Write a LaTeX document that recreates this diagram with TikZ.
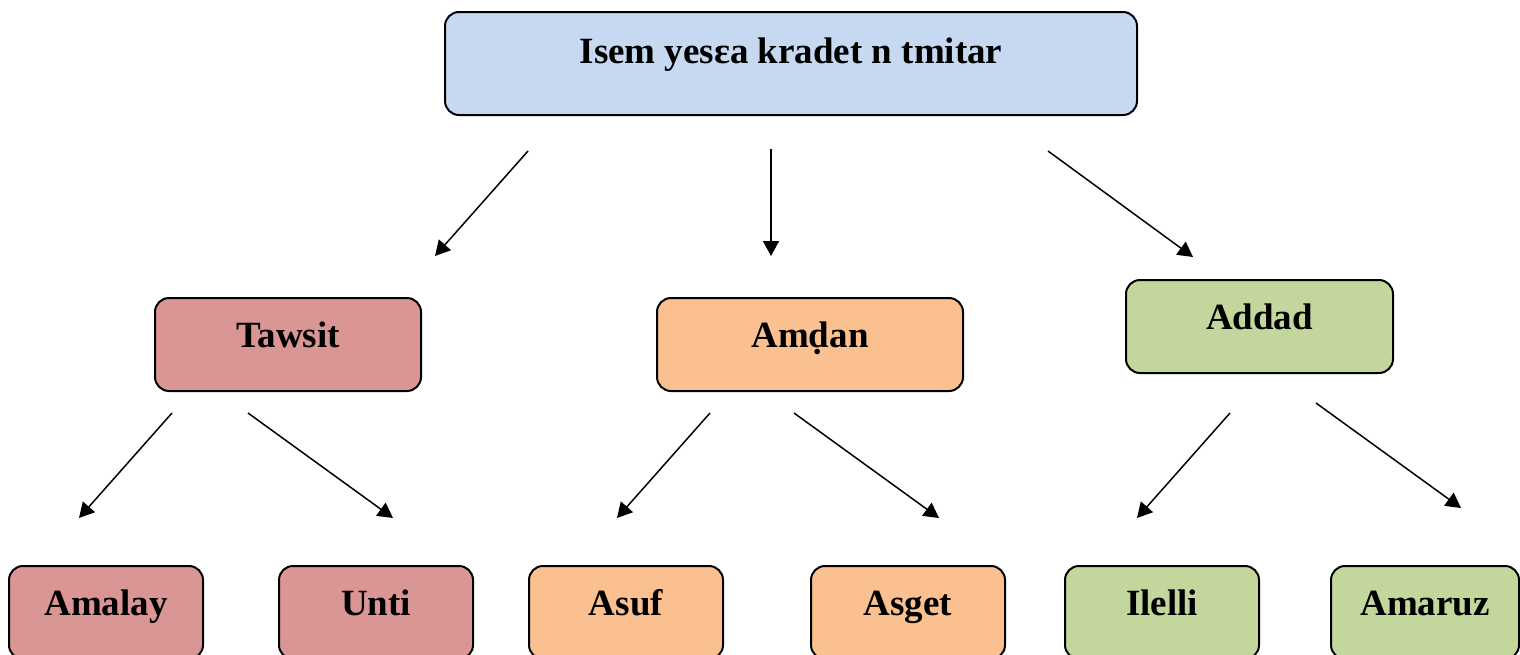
\documentclass[tikz,border=0pt]{standalone}
\usepackage{fontspec}
\setmainfont{Liberation Serif}
\usetikzlibrary{%
    arrows.meta,
    positioning
}
\definecolor{isemblue}{HTML}{C6D9F1}
\definecolor{tawsitred}{HTML}{D99694}
\definecolor{amdanorange}{HTML}{FAC090}
\definecolor{addadgreen}{HTML}{C3D69B}
\tikzset{box/.style = {draw, line width=1pt, rounded corners=7pt, anchor=north west,
    inner xsep=0pt, inner ysep=0pt, text height=24.5pt, text depth=22pt,
    font=\fontsize{18.5}{22}\selectfont\bfseries}}
\tikzset{headarrow/.style = {line width=0.75pt, -{Triangle[length=7.5pt,width=8pt]}}}

\begin{document}
\begin{tikzpicture}[x=0.5pt, y=-0.5pt]
    \useasboundingbox (0,0) rectangle (1520,654);

    % top box
    \node[box, fill=isemblue, minimum width=346pt, text height=25.5pt, text depth=26pt] (Isem) at (444,11) {Isem yesɛa kradet n tmitar};

    % middle boxes
    \node[box, fill=tawsitred, minimum width=133pt] (Tawsit) at (154,297) {Tawsit};
    \node[box, fill=amdanorange, minimum width=153pt] (Amdan) at (656,297) {Amḍan};
    \node[box, fill=addadgreen, minimum width=133.5pt] (Addad) at (1125,279) {Addad};

    % bottom boxes
    \foreach \Name/\X/\Color in {%
        Amalay/8/tawsitred,
        Unti/278/tawsitred,
        Asuf/528/amdanorange,
        Asget/810/amdanorange,
        Ilelli/1064/addadgreen%
        }
        \node[box, fill=\Color, minimum width=97pt] (\Name) at (\X,565) {\Name};
    \node[box, fill=addadgreen, minimum width=94pt] (Amaruz) at (1330,565) {Amaruz};

    % arrow ends
    \foreach \Name/\X/\Y in {%
        Isem-s1/528/151, Tawsit-t/435/256,
        Isem-s2/771/149, Amdan-t/771/256,
        Isem-s3/1048/151, Addad-t/1193/257,
        Tawsit-s1/172/413, Amalay-t/79/518,
        Tawsit-s2/248/413, Unti-t/393/518,
        Amdan-s1/710/413, Asuf-t/617/518,
        Amdan-s2/794/413, Asget-t/939/518,
        Addad-s1/1230/413, Ilelli-t/1137/518,
        Addad-s2/1316/403, Amaruz-t/1461/508%
        }
        \coordinate (\Name) at (\X,\Y);

    % arrows
    \foreach \Source/\Target in {%
        Isem-s1/Tawsit-t,
        Isem-s2/Amdan-t,
        Isem-s3/Addad-t,
        Tawsit-s1/Amalay-t,
        Tawsit-s2/Unti-t,
        Amdan-s1/Asuf-t,
        Amdan-s2/Asget-t,
        Addad-s1/Ilelli-t,
        Addad-s2/Amaruz-t%
        }
        \draw[headarrow] (\Source) -- (\Target);
\end{tikzpicture}
\end{document}
